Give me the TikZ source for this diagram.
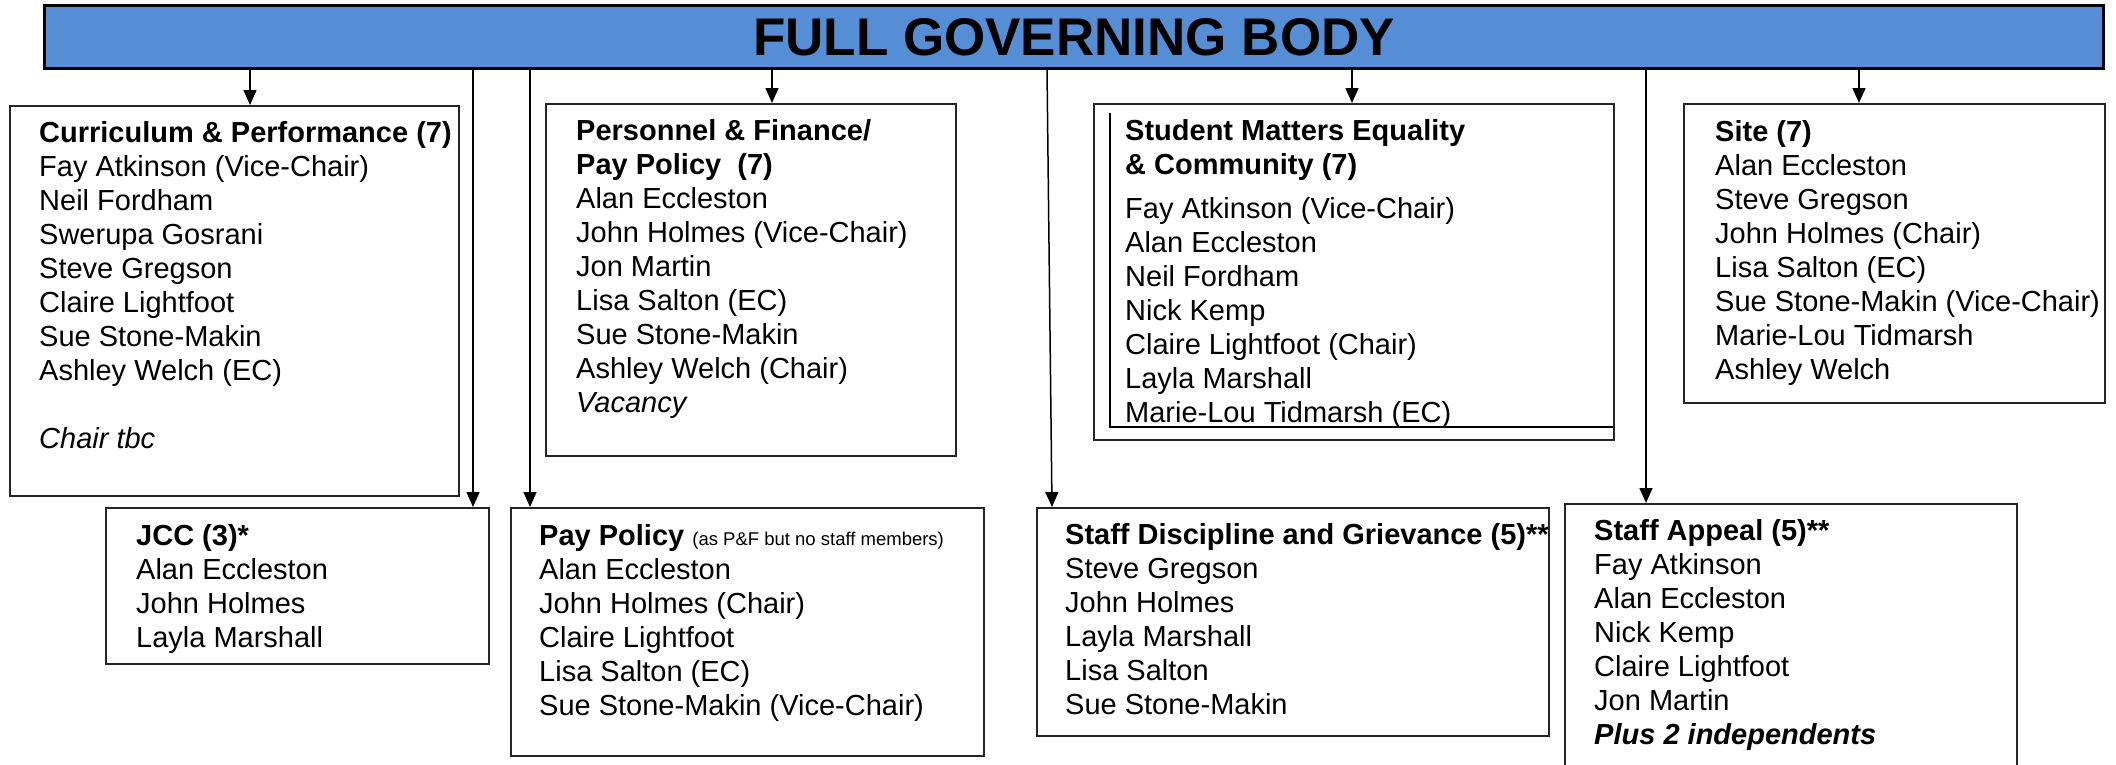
\documentclass[tikz,border=0pt]{standalone}
\usepackage{fontspec}
\setmainfont{Liberation Sans}
\usetikzlibrary{arrows.meta}
\definecolor{bannerblue}{RGB}{85,142,213}
\tikzset{
  box/.style={draw=black!85, line width=1.5pt, rectangle, inner sep=0pt, anchor=north west},
  txt/.style={anchor=north west, inner sep=0pt, align=left, font=\fontsize{29}{34}\selectfont},
  arr/.style={line width=1.5pt, -{Triangle[length=15pt,width=13pt]}},
}
\newcommand{\fst}{\rule{0pt}{25pt}}
\begin{document}
\begin{tikzpicture}[x=1pt,y=-1pt]
\useasboundingbox (0,0) rectangle (2116,764);
\clip (0,0) rectangle (2116,764);
% banner
\node[draw=black, line width=3pt, fill=bannerblue, inner sep=0pt, anchor=north west,
      minimum width=2059pt, minimum height=63pt, font=\fontsize{53}{60}\selectfont\bfseries]
      (fgb) at (43,4) {FULL GOVERNING BODY};
% boxes
\node[box, minimum width=449pt, minimum height=390pt] (cp) at (9,105) {};
\node[box, minimum width=410pt, minimum height=352pt] (pf) at (545,103) {};
\node[box, minimum width=520pt, minimum height=336pt] (sm) at (1093,103) {};
\node[box, minimum width=421pt, minimum height=299pt] (site) at (1683,103) {};
\node[box, minimum width=383pt, minimum height=156pt] (jcc) at (105,507) {};
\node[box, minimum width=473pt, minimum height=248pt] (pp) at (510,507) {};
\node[box, minimum width=512pt, minimum height=228pt] (sd) at (1036,507) {};
\node[box, minimum width=452pt, minimum height=300pt] (sa) at (1564,503) {};
% inner frame lines of student box
\draw[line width=2.2pt, black] (1110,113) -- (1110,427) -- (1613,427);
% texts
\node[txt] (cpt) at (39,117) {\fst\textbf{Curriculum \& Performance (7)}\\
Fay Atkinson (Vice-Chair)\\ Neil Fordham\\ Swerupa Gosrani\\ Steve Gregson\\
Claire Lightfoot\\ Sue Stone-Makin\\ Ashley Welch (EC)\\[34pt] \textit{Chair tbc}};
\node[txt] (pft) at (576,115) {\fst\textbf{Personnel \& Finance/}\\ \textbf{Pay Policy\ \ (7)}\\
Alan Eccleston\\ John Holmes (Vice-Chair)\\ Jon Martin\\ Lisa Salton (EC)\\
Sue Stone-Makin\\ Ashley Welch (Chair)\\ \textit{Vacancy}};
\node[txt] (smt) at (1125,115) {\fst\textbf{Student Matters Equality}\\ \textbf{\& Community (7)}\\[10pt]
Fay Atkinson (Vice-Chair)\\ Alan Eccleston\\ Neil Fordham\\ Nick Kemp\\
Claire Lightfoot (Chair)\\ Layla Marshall\\ Marie-Lou Tidmarsh (EC)};
\node[txt] (sitet) at (1715,116) {\fst\textbf{Site (7)}\\ Alan Eccleston\\ Steve Gregson\\
John Holmes (Chair)\\ Lisa Salton (EC)\\ Sue Stone-Makin (Vice-Chair)\\
Marie-Lou Tidmarsh\\ Ashley Welch};
\node[txt] (jcct) at (136,520) {\fst\textbf{JCC (3)*}\\ Alan Eccleston\\ John Holmes\\ Layla Marshall};
\node[txt] (ppt) at (539,520) {\fst\textbf{Pay Policy} {\fontsize{18.5}{20}\selectfont(as P\&F but no staff members)}\\
Alan Eccleston\\ John Holmes (Chair)\\ Claire Lightfoot\\ Lisa Salton (EC)\\ Sue Stone-Makin (Vice-Chair)};
\begin{scope}
\clip (sd.south west) rectangle (sd.north east);
\node[txt] (sdt) at (1065,519) {\fst\textbf{Staff Discipline and Grievance (5)**}\\
Steve Gregson\\ John Holmes\\ Layla Marshall\\ Lisa Salton\\ Sue Stone-Makin};
\end{scope}
\node[txt] (sat) at (1594,515) {\fst\textbf{Staff Appeal (5)**}\\ Fay Atkinson\\ Alan Eccleston\\
Nick Kemp\\ Claire Lightfoot\\ Jon Martin\\ \textbf{\textit{Plus 2 independents}}};
% connector x positions
\coordinate (xcp) at (250,0);
\coordinate (xpf) at (772,0);
\coordinate (xsm) at (1352,0);
\coordinate (xsite) at (1859,0);
\coordinate (xjcc) at (473,0);
\coordinate (xpp) at (530,0);
\coordinate (xsdtop) at (1047,0);
\coordinate (xsd) at (1052,0);
\coordinate (xsa) at (1646,0);
% connectors
\draw[arr] (fgb.south -| xcp) -- (cp.north -| xcp);
\draw[arr] (fgb.south -| xpf) -- (pf.north -| xpf);
\draw[arr] (fgb.south -| xsm) -- (sm.north -| xsm);
\draw[arr] (fgb.south -| xsite) -- (site.north -| xsite);
\draw[arr] (fgb.south -| xjcc) -- (jcc.north -| xjcc);
\draw[arr] (fgb.south -| xpp) -- (pp.north -| xpp);
\draw[arr] (fgb.south -| xsdtop) -- (sd.north -| xsd);
\draw[arr] (fgb.south -| xsa) -- (sa.north -| xsa);
\end{tikzpicture}
\end{document}
